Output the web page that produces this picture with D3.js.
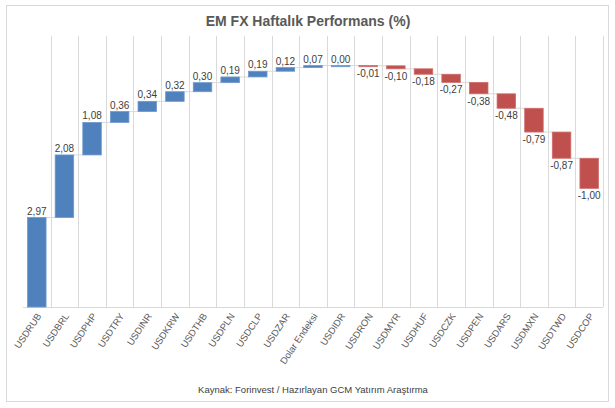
<!DOCTYPE html>
<html>
<head>
<meta charset="utf-8">
<script src="https://cdn.jsdelivr.net/npm/d3@7"></script>
<style>
  body { margin: 0; background: #fff; }
  svg { font-family: "Liberation Sans", Arial, sans-serif; }
</style>
</head>
<body>
<svg id="chart" width="615" height="408"></svg>
<script>
// weekly change per pair, in %
const categories = ["USDRUB", "USDBRL", "USDPHP", "USDTRY", "USDINR", "USDKRW", "USDTHB",
    "USDPLN", "USDCLP", "USDZAR", "Dolar Endeksi", "USDIDR", "USDRON", "USDMYR", "USDHUF",
    "USDCZK", "USDPEN", "USDARS", "USDMXN", "USDTWD", "USDCOP"];
const changes = [2.97, 2.08, 1.08, 0.36, 0.34, 0.32, 0.30, 0.19, 0.19, 0.12, 0.07, 0.00,
    -0.01, -0.10, -0.18, -0.27, -0.38, -0.48, -0.79, -0.87, -1.00];
const yTicks = [0, 9];

const svg = d3.select("#chart");
const margin = { top: 36, right: 12, bottom: 101, left: 23 };
const width = 615, height = 408;

// chart frame
svg.append("rect")
    .attr("x", 6.5).attr("y", 5.5)
    .attr("width", 602).attr("height", 396)
    .attr("fill", "white")
    .attr("stroke", "#d9d9d9");

svg.append("text")
    .text("EM FX Haftalık Performans (%)")
    .attr("x", 308).attr("y", 26)
    .attr("text-anchor", "middle")
    .attr("font-size", 14)
    .attr("font-weight", "bold")
    .attr("fill", "#595959");

// running totals for the waterfall
let running = 0;
const steps = changes.map((v, i) => {
    let start = running;
    running += v;
    return { cat: categories[i], value: v, start: start, end: running };
});

const x = d3.scaleBand()
    .domain(categories)
    .range([margin.left, width - margin.right])
    .paddingInner(0.33)
    .paddingOuter(0.165);

const y = d3.scaleLinear()
    .domain(d3.extent(yTicks))
    .range([height - margin.bottom, margin.top]);

const step = x.step();
const plotLeft = margin.left, plotRight = width - margin.right;

// vertical gridlines between categories
const grid = d3.range(categories.length + 1).map(i => plotLeft + i * step);
svg.append("g").selectAll("line")
    .data(grid.slice(1))
    .join("line")
    .attr("x1", d => Math.round(d) + 0.5).attr("x2", d => Math.round(d) + 0.5)
    .attr("y1", y(9)).attr("y2", y(0))
    .attr("stroke", "#d9d9d9");

svg.append("line")
    .attr("x1", plotLeft).attr("x2", plotRight)
    .attr("y1", y(0) + 0.5).attr("y2", y(0) + 0.5)
    .attr("stroke", "#d9d9d9");

// connectors
svg.append("g").selectAll("line")
    .data(steps.slice(0, -1))
    .join("line")
    .attr("x1", d => x(d.cat) + x.bandwidth())
    .attr("x2", (d, i) => x(steps[i + 1].cat))
    .attr("y1", d => y(d.end)).attr("y2", d => y(d.end))
    .attr("stroke", "#d9d9d9");

// bars
svg.append("g").selectAll("rect")
    .data(steps)
    .join("rect")
    .attr("x", d => x(d.cat))
    .attr("width", x.bandwidth())
    .attr("y", d => y(Math.max(d.start, d.end)))
    .attr("height", d => Math.max(1.2, Math.abs(y(d.start) - y(d.end))))
    .attr("fill", d => d.value >= 0 ? "#4f81bd" : "#c0504d")
    .attr("stroke", d => d.value >= 0 ? "#6f98cc" : "#cd6e6b")
    .attr("stroke-width", 0.8);

const fmt = v => v.toFixed(2).replace(".", ",");

// value labels
svg.append("g").selectAll("text")
    .data(steps)
    .join("text")
    .text(d => fmt(d.value))
    .attr("x", d => x(d.cat) + x.bandwidth() / 2)
    .attr("y", d => d.value >= 0 ? y(d.end) - 3 : y(d.end) + 11)
    .attr("text-anchor", "middle")
    .attr("font-size", 10)
    .attr("fill", "#404040");

// category labels
svg.append("g").selectAll("text")
    .data(categories)
    .join("text")
    .text(d => d)
    .attr("transform", d => `translate(${x(d) + x.bandwidth() / 2 + 5},${y(0) + 9}) rotate(-56)`)
    .attr("text-anchor", "end")
    .attr("font-size", 9.5)
    .attr("fill", "#595959");

svg.append("text")
    .text("Kaynak: Forinvest / Hazırlayan GCM Yatırım Araştırma")
    .attr("x", 313).attr("y", 393)
    .attr("text-anchor", "middle")
    .attr("font-size", 9.5)
    .attr("fill", "#404040");
</script>
</body>
</html>
